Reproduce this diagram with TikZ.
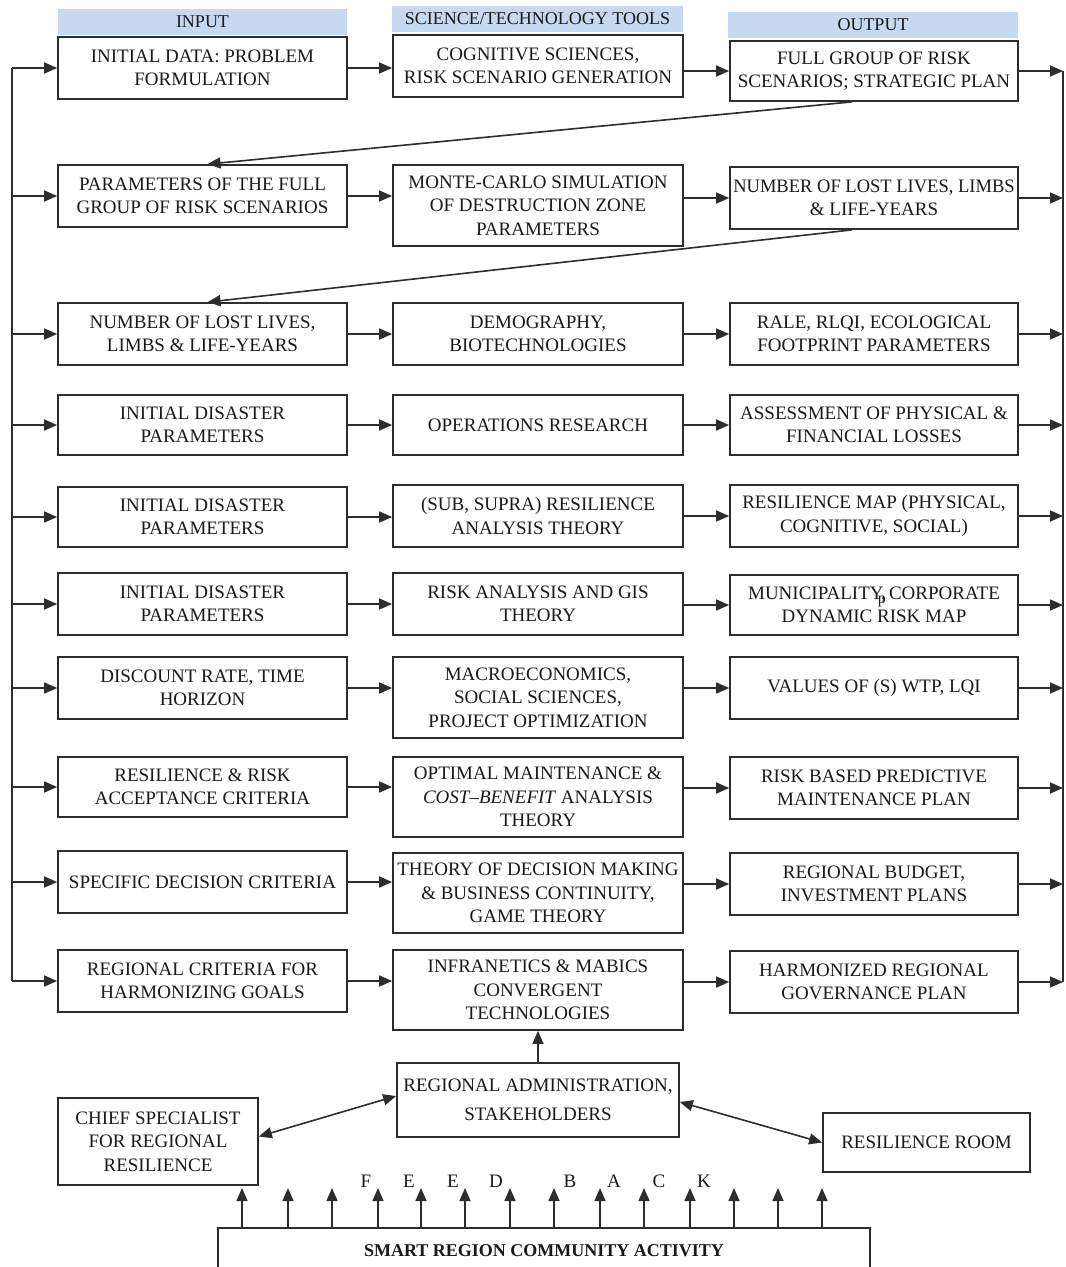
\documentclass[tikz,border=0pt]{standalone}
\usepackage{fontspec}
\setmainfont{Liberation Serif}
\usetikzlibrary{arrows.meta}
\definecolor{linec}{RGB}{45,45,45}
\definecolor{txt}{RGB}{25,25,25}
\definecolor{headfill}{RGB}{198,217,241}
\begin{document}
\begin{tikzpicture}[x=1pt,y=-1pt,
  every node/.style={text=txt},
  box/.style={draw=linec, line width=1.7pt, fill=white, align=center, inner sep=0pt,
    font=\fontsize{19}{23.5}\selectfont},
  colL/.style={box, minimum width=289pt},
  colM/.style={box, minimum width=290pt},
  colR/.style={box, minimum width=288pt},
  two/.style={minimum height=62pt},
  low/.style={minimum height=60pt},
  three/.style={minimum height=81pt},
  head/.style={fill=headfill, inner sep=0pt, minimum height=26pt,
    font=\fontsize{18}{20}\selectfont},
  wire/.style={draw=linec, line width=1.6pt},
  arr/.style={wire, -{Triangle[length=13pt,width=11pt]}},
  darr/.style={wire, {Triangle[length=13pt,width=11pt]}-{Triangle[length=13pt,width=11pt]}},
  fbletter/.style={inner sep=0pt, font=\fontsize{19}{19}\selectfont},
  ]
\useasboundingbox (0,0) rectangle (1066,1267);

% column headings
\node[head, minimum width=289pt] (hin)  at (202.5,22) {INPUT};
\node[head, minimum width=291pt] (hsci) at (537.5,19) {SCIENCE/TECHNOLOGY TOOLS};
\node[head, minimum width=290pt] (hout) at (873,25)   {OUTPUT};

% row 1
\node[colL,two] (L1) at (202.5,68) {INITIAL DATA: PROBLEM\\FORMULATION};
\node[colM,two] (M1) at (538,66)   {COGNITIVE SCIENCES,\\RISK SCENARIO GENERATION};
\node[colR,low] (R1) at (874,71)   {FULL GROUP OF RISK\\SCENARIOS; STRATEGIC PLAN};
% row 2
\node[colL,two]   (L2) at (202.5,196) {PARAMETERS OF THE FULL\\GROUP OF RISK SCENARIOS};
\node[colM,three] (M2) at (538,205.5) {MONTE-CARLO SIMULATION\\OF DESTRUCTION ZONE\\PARAMETERS};
\node[colR,two]   (R2) at (874,198)   {\scalebox{0.975}[1]{NUMBER OF LOST LIVES, LIMBS}\\\&{} LIFE-YEARS};
% row 3
\node[colL,two] (L3) at (202.5,334) {NUMBER OF LOST LIVES,\\LIMBS \&{} LIFE-YEARS};
\node[colM,two] (M3) at (538,334)   {DEMOGRAPHY,\\BIOTECHNOLOGIES};
\node[colR,two] (R3) at (874,334)   {RALE, RLQI, ECOLOGICAL\\FOOTPRINT PARAMETERS};
% row 4
\node[colL,low] (L4) at (202.5,425) {INITIAL DISASTER\\PARAMETERS};
\node[colM,low] (M4) at (538,425)   {OPERATIONS RESEARCH};
\node[colR,low] (R4) at (874,425)   {ASSESSMENT OF PHYSICAL \&\\FINANCIAL LOSSES};
% row 5
\node[colL,low] (L5) at (202.5,517) {INITIAL DISASTER\\PARAMETERS};
\node[colM,two] (M5) at (538,516)   {(SUB, SUPRA) RESILIENCE\\ANALYSIS THEORY};
\node[colR,two] (R5) at (874,516)   {RESILIENCE MAP (PHYSICAL,\\COGNITIVE, SOCIAL)};
% row 6
\node[colL,two] (L6) at (202.5,604) {INITIAL DISASTER\\PARAMETERS};
\node[colM,two] (M6) at (538,604)   {RISK ANALYSIS AND GIS\\THEORY};
\node[colR,low] (R6) at (874,605)   {MUNICIPALITY,\llap{\raisebox{-4pt}{\fontsize{16}{16}\selectfont p}}\,CORPORATE\\DYNAMIC RISK MAP};
% row 7
\node[colL,two]   (L7) at (202.5,688) {DISCOUNT RATE, TIME\\HORIZON};
\node[colM,three] (M7) at (538,697.5) {MACROECONOMICS,\\SOCIAL SCIENCES,\\PROJECT OPTIMIZATION};
\node[colR,two]   (R7) at (874,688)   {VALUES OF (S) WTP, LQI};
% row 8
\node[colL,low] (L8) at (202.5,787) {RESILIENCE \&{} RISK\\ACCEPTANCE CRITERIA};
\node[colM,minimum height=80pt] (M8) at (538,797) {OPTIMAL MAINTENANCE \&\\\textit{COST--BENEFIT} ANALYSIS\\THEORY};
\node[colR,two] (R8) at (874,788)   {RISK BASED PREDICTIVE\\MAINTENANCE PLAN};
% row 9
\node[colL,two] (L9) at (202.5,882) {SPECIFIC DECISION CRITERIA};
\node[colM,minimum height=80pt] (M9) at (538,893) {THEORY OF DECISION MAKING\\\&{} BUSINESS CONTINUITY,\\GAME THEORY};
\node[colR,two] (R9) at (874,884)   {REGIONAL BUDGET,\\INVESTMENT PLANS};
% row 10
\node[colL,two] (L10) at (202.5,981) {REGIONAL CRITERIA FOR\\HARMONIZING GOALS};
\node[colM,minimum height=80pt] (M10) at (538,990) {INFRANETICS \&{} MABICS\\CONVERGENT\\TECHNOLOGIES};
\node[colR,two] (R10) at (874,982)  {HARMONIZED REGIONAL\\GOVERNANCE PLAN};

% rails on both sides
\coordinate (lrail) at (12,0);
\coordinate (rrail) at (1063,0);
\draw[wire] (L1.west -| lrail) -- (L10.west -| lrail);
\draw[wire] (R1.east -| rrail) -- (R10.east -| rrail);

\foreach \r in {1,...,10} {
  \draw[arr] (L\r.west -| lrail) -- (L\r.west);
  \draw[arr] (L\r.east) -- (L\r.east -| M\r.west);
  \draw[arr] (M\r.east |- R\r.west) -- (R\r.west);
  \draw[arr] (R\r.east) -- (R\r.east -| rrail);
}

% outputs fed back as inputs of the next row
\draw[arr] ([xshift=-22pt]R1.south) -- ([xshift=5pt]L2.north);
\draw[arr] ([xshift=-22pt]R2.south) -- ([xshift=5pt]L3.north);

% governance block
\node[box, minimum width=282pt, minimum height=74pt, font=\fontsize{19}{29}\selectfont]
  (ADM) at (538,1100) {REGIONAL ADMINISTRATION,\\STAKEHOLDERS};
\node[box, minimum width=200pt, minimum height=87pt] (CHF) at (158,1141.5)
  {CHIEF SPECIALIST\\FOR REGIONAL\\RESILIENCE};
\node[box, minimum width=207pt, minimum height=59pt] (ROOM) at (926.5,1142.5)
  {RESILIENCE ROOM};
\draw[arr] (ADM.north -| M10.south) -- (M10.south);
\draw[darr] ([yshift=5pt]CHF.east) -- ([yshift=4pt]ADM.west);
\draw[darr] ([yshift=-2pt]ADM.east) -- (ROOM.west);

% community activity and feedback
\node[box, minimum width=652pt, minimum height=46pt, font=\bfseries\fontsize{18}{20}\selectfont]
  (SMART) at (544,1251) {SMART REGION COMMUNITY ACTIVITY};
\foreach \x [count=\i] in {242,288,332,378,421,465,510,554,600,644,690,734,778,822} {
  \coordinate (fb\i) at (\x,1188);
  \draw[arr] (fb\i |- SMART.north) -- (fb\i);
}
\node[fbletter] (lF)  at (366,1181) {F};
\node[fbletter] (lE1) at (409,1181) {E};
\node[fbletter] (lE2) at (453,1181) {E};
\node[fbletter] (lD)  at (496,1181) {D};
\node[fbletter] (lB)  at (570,1181) {B};
\node[fbletter] (lA)  at (614,1181) {A};
\node[fbletter] (lC)  at (659,1181) {C};
\node[fbletter] (lK)  at (704,1181) {K};
\end{tikzpicture}
\end{document}
